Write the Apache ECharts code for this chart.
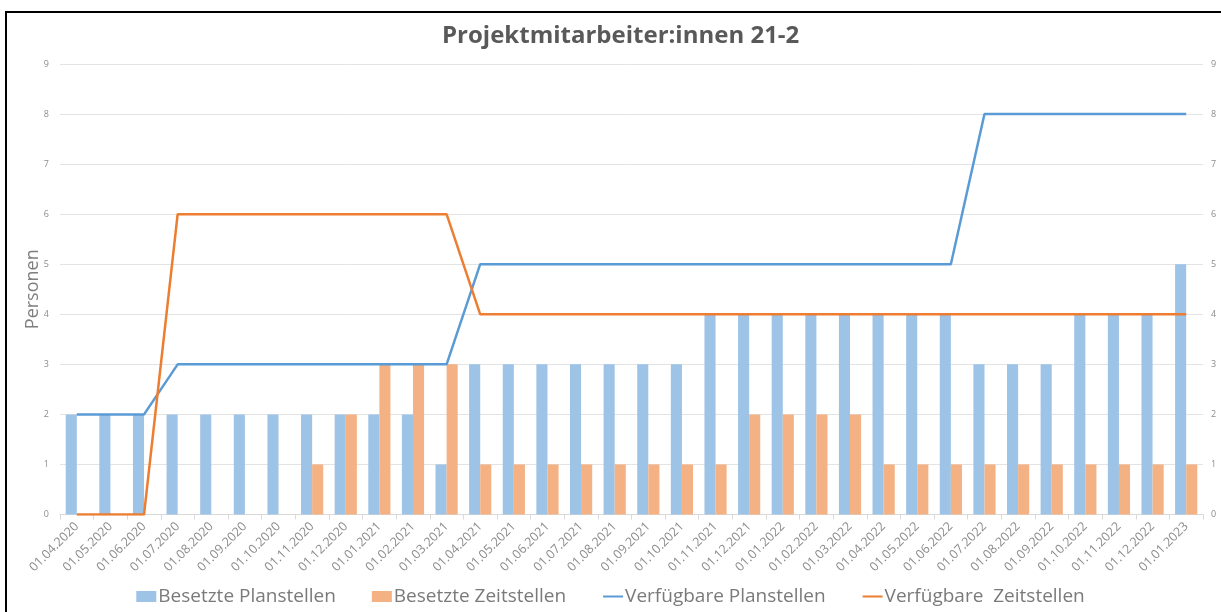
<!DOCTYPE html>
<html><head><meta charset="utf-8">
<script src="https://cdn.jsdelivr.net/npm/echarts@6/dist/echarts.min.js"></script>
<style>
html,body{margin:0;padding:0;background:#fff;}
#frame{position:absolute;left:5px;top:11px;width:1216px;height:601px;border-left:2px solid #000;border-top:2px solid #000;box-sizing:border-box;}
#c{position:absolute;left:0;top:0;width:1221px;height:612px;}
</style></head>
<body>
<div id="frame"></div>
<div id="c"></div>
<script>
var categories = ['01.04.2020','01.05.2020','01.06.2020','01.07.2020','01.08.2020','01.09.2020','01.10.2020','01.11.2020','01.12.2020',
 '01.01.2021','01.02.2021','01.03.2021','01.04.2021','01.05.2021','01.06.2021','01.07.2021','01.08.2021','01.09.2021','01.10.2021','01.11.2021','01.12.2021',
 '01.01.2022','01.02.2022','01.03.2022','01.04.2022','01.05.2022','01.06.2022','01.07.2022','01.08.2022','01.09.2022','01.10.2022','01.11.2022','01.12.2022',
 '01.01.2023'];
var besetztePlanstellen = [2,2,2,2,2,2,2,2,2,2,2,1,3,3,3,3,3,3,3,4,4,4,4,4,4,4,4,3,3,3,4,4,4,5];
var besetzteZeitstellen = [0,0,0,0,0,0,0,1,2,3,3,3,1,1,1,1,1,1,1,1,2,2,2,2,1,1,1,1,1,1,1,1,1,1];
var verfuegbarePlanstellen = [2,2,2,3,3,3,3,3,3,3,3,3,5,5,5,5,5,5,5,5,5,5,5,5,5,5,5,8,8,8,8,8,8,8];
var verfuegbareZeitstellen = [0,0,0,6,6,6,6,6,6,6,6,6,4,4,4,4,4,4,4,4,4,4,4,4,4,4,4,4,4,4,4,4,4,4];
var seriesNames = ['Besetzte Planstellen','Besetzte Zeitstellen','Verfügbare Planstellen','Verfügbare  Zeitstellen'];

var chart = echarts.init(document.getElementById('c'));
var yCommon = {
  type:'value', min:0, max:9, interval:1,
  axisLine:{show:false}, axisTick:{show:false},
  axisLabel:{fontSize:9, color:'#8c8c8c', fontFamily:'Open Sans'}
};
chart.setOption({
  animation:false,
  textStyle:{fontFamily:'Open Sans'},
  title:{text:'Projektmitarbeiter:innen 21-2', left:437, top:19,
    textStyle:{fontSize:24, fontWeight:'bold', color:'#595959', fontFamily:'Open Sans'}},
  grid:{left:60, right:18, top:64, bottom:97.5},
  legend:{bottom:1, left:'center', itemGap:36, itemWidth:20, itemHeight:11,
    textStyle:{fontSize:19, color:'#7a7a7a', fontFamily:'Open Sans', padding:[0,0,0,-3]},
    data:[{name:seriesNames[0], icon:'rect'},{name:seriesNames[1], icon:'rect'},
      {name:seriesNames[2], itemStyle:{opacity:0}},{name:seriesNames[3], itemStyle:{opacity:0}}]},
  xAxis:{type:'category', data:categories,
    axisLine:{lineStyle:{color:'#d9d9d9'}},
    axisTick:{show:true, length:5, lineStyle:{color:'#d9d9d9'}},
    axisLabel:{rotate:45, fontSize:12.5, color:'#8c8c8c', interval:0, margin:10}},
  yAxis:[
    Object.assign({}, yCommon, {name:'Personen', nameLocation:'middle', nameGap:18, nameRotate:90, nameMoveOverlap:false,
      nameTextStyle:{fontSize:18, color:'#7f7f7f'},
      splitLine:{lineStyle:{color:'#e3e3e3', width:1}}, axisLabel:Object.assign({}, yCommon.axisLabel, {margin:11})}),
    Object.assign({}, yCommon, {position:'right', splitLine:{show:false}, axisLabel:Object.assign({}, yCommon.axisLabel, {margin:8})})
  ],
  series:[
    {name:seriesNames[0], type:'bar', data:besetztePlanstellen, itemStyle:{color:'#9DC3E6'}, barGap:'0%', barCategoryGap:'34%'},
    {name:seriesNames[1], type:'bar', data:besetzteZeitstellen, itemStyle:{color:'#F4B183'}},
    {name:seriesNames[2], type:'line', data:verfuegbarePlanstellen, symbol:'none', lineStyle:{color:'#5B9BD5', width:2.5}, itemStyle:{color:'#5B9BD5'}},
    {name:seriesNames[3], type:'line', data:verfuegbareZeitstellen, symbol:'none', lineStyle:{color:'#ED7D31', width:2.5}, itemStyle:{color:'#ED7D31'}}
  ]
});
</script>
</body></html>
